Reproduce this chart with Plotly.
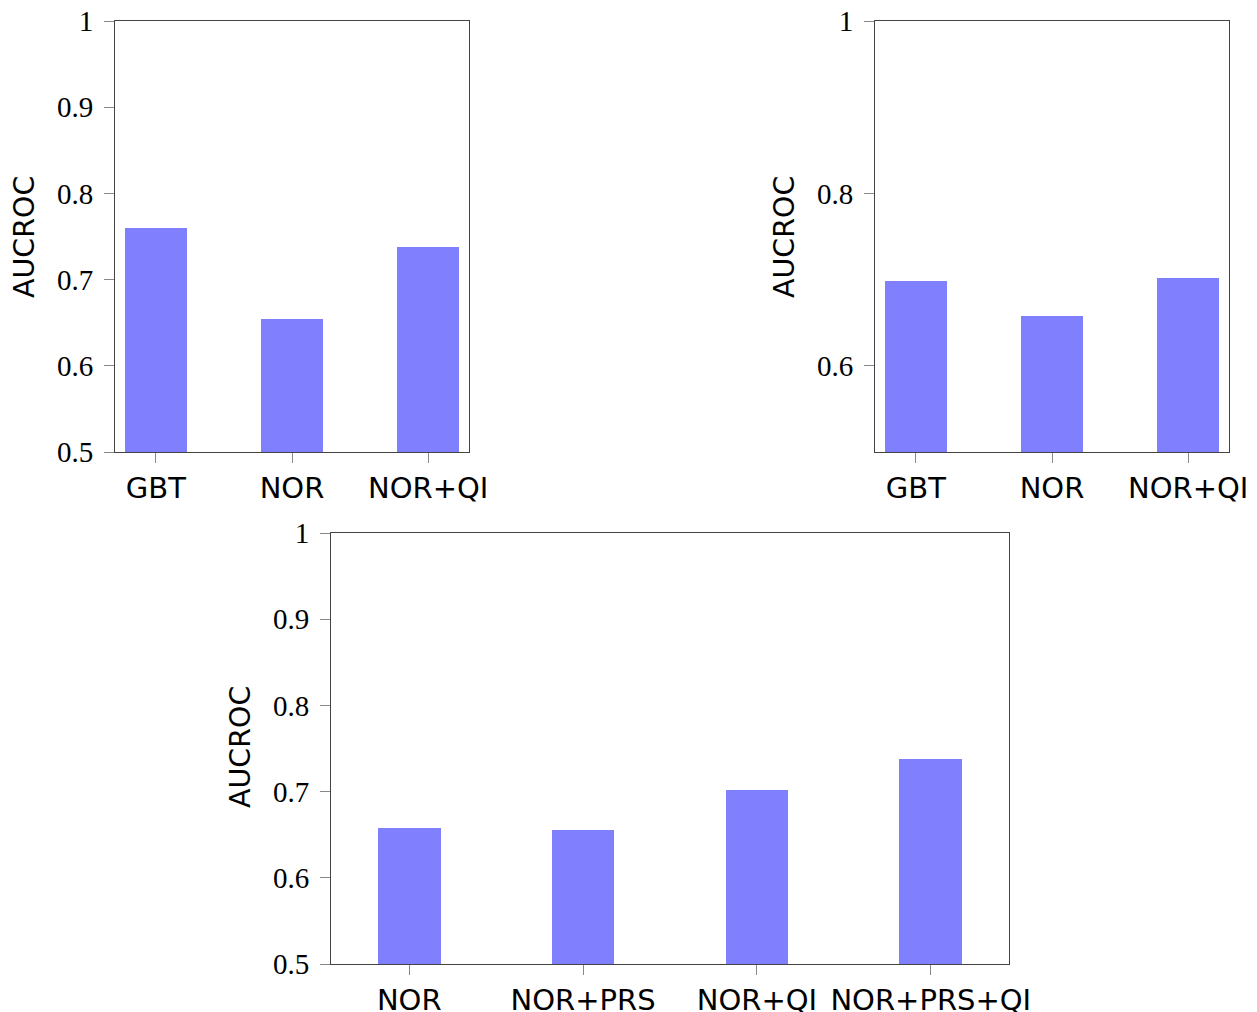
import plotly.graph_objects as go

# the page has an 8px body margin; the figure starts at (8, 8) of the window
OFF = 8
W, H = 1257 - OFF, 1012 - OFF

cats1 = ["GBT", "NOR", "NOR+QI"]
vals1 = [0.760, 0.654, 0.738]

cats2 = ["GBT", "NOR", "NOR+QI"]
vals2 = [0.698, 0.658, 0.702]

cats3 = ["NOR", "NOR+PRS", "NOR+QI", "NOR+PRS+QI"]
vals3 = [0.658, 0.655, 0.702, 0.738]

ytick1 = [0.5, 0.6, 0.7, 0.8, 0.9, 1.0]
ytick2 = [0.6, 0.8, 1.0]
ytitle = "AUCROC"

BAR = "#8080FF"
SERIF = "Liberation Serif, DejaVu Serif, serif"
SANS = "DejaVu Sans, Liberation Sans, sans-serif"

fig = go.Figure()
fig.add_trace(go.Bar(x=list(range(len(cats1))), y=[v - 0.5 for v in vals1], base=0.5,
                     width=0.46, marker=dict(color=BAR, line=dict(width=0)),
                     xaxis="x", yaxis="y", showlegend=False))
fig.add_trace(go.Bar(x=list(range(len(cats2))), y=[v - 0.5 for v in vals2], base=0.5,
                     width=0.46, marker=dict(color=BAR, line=dict(width=0)),
                     xaxis="x2", yaxis="y2", showlegend=False))
fig.add_trace(go.Bar(x=list(range(len(cats3))), y=[v - 0.5 for v in vals3], base=0.5,
                     width=0.36, marker=dict(color=BAR, line=dict(width=0)),
                     xaxis="x3", yaxis="y3", showlegend=False))


def px_x(a, b):
    return [(a - OFF) / W, (b - OFF) / W]


def px_y(top, bottom):
    return [1 - (bottom - OFF) / H, 1 - (top - OFF) / H]


common_x = dict(showline=True, linecolor="#444444", linewidth=1, mirror=True,
                ticks="outside", ticklen=10, tickcolor="#888888", showgrid=False,
                zeroline=False, tickmode="array", automargin=False,
                ticklabelstandoff=0, ticklabeloverflow="allow",
                tickfont=dict(family=SANS, size=29, color="black"))
common_y = dict(showline=True, linecolor="#444444", linewidth=1, mirror=True,
                ticks="outside", ticklen=10, tickcolor="#888888", showgrid=False,
                zeroline=False, tickmode="array", range=[0.5, 1.0], automargin=False,
                ticklabelstandoff=5, ticklabeloverflow="allow",
                tickfont=dict(family=SERIF, size=29, color="black"))

fig.update_layout(
    width=W, height=H, margin=dict(l=0, r=0, t=0, b=0),
    paper_bgcolor="white", plot_bgcolor="white",
    xaxis=dict(common_x, domain=px_x(115, 469), anchor="y", range=[-0.3, 2.3],
               tickvals=list(range(len(cats1))), ticktext=cats1),
    yaxis=dict(common_y, domain=px_y(21, 452), anchor="x",
               tickvals=ytick1, ticktext=[f"{t:g}" for t in ytick1]),
    xaxis2=dict(common_x, domain=px_x(875, 1229), anchor="y2", range=[-0.3, 2.3],
                tickvals=list(range(len(cats2))), ticktext=cats2),
    yaxis2=dict(common_y, domain=px_y(21, 452), anchor="x2",
                tickvals=ytick2, ticktext=[f"{t:g}" for t in ytick2]),
    xaxis3=dict(common_x, domain=px_x(331, 1009), anchor="y3", range=[-0.45, 3.45],
                tickvals=list(range(len(cats3))), ticktext=cats3),
    yaxis3=dict(common_y, domain=px_y(533, 964), anchor="x3",
                tickvals=ytick1, ticktext=[f"{t:g}" for t in ytick1]),
    bargap=0,
)

for cx, cy in [(24, 237), (784, 237), (240, 747)]:
    fig.add_annotation(text=ytitle, textangle=-90, showarrow=False,
                       xref="paper", yref="paper",
                       x=(cx - OFF) / W, y=1 - (cy - OFF) / H,
                       xanchor="center", yanchor="middle",
                       font=dict(family=SANS, size=28.5, color="black"))

fig.write_html("out.html")
